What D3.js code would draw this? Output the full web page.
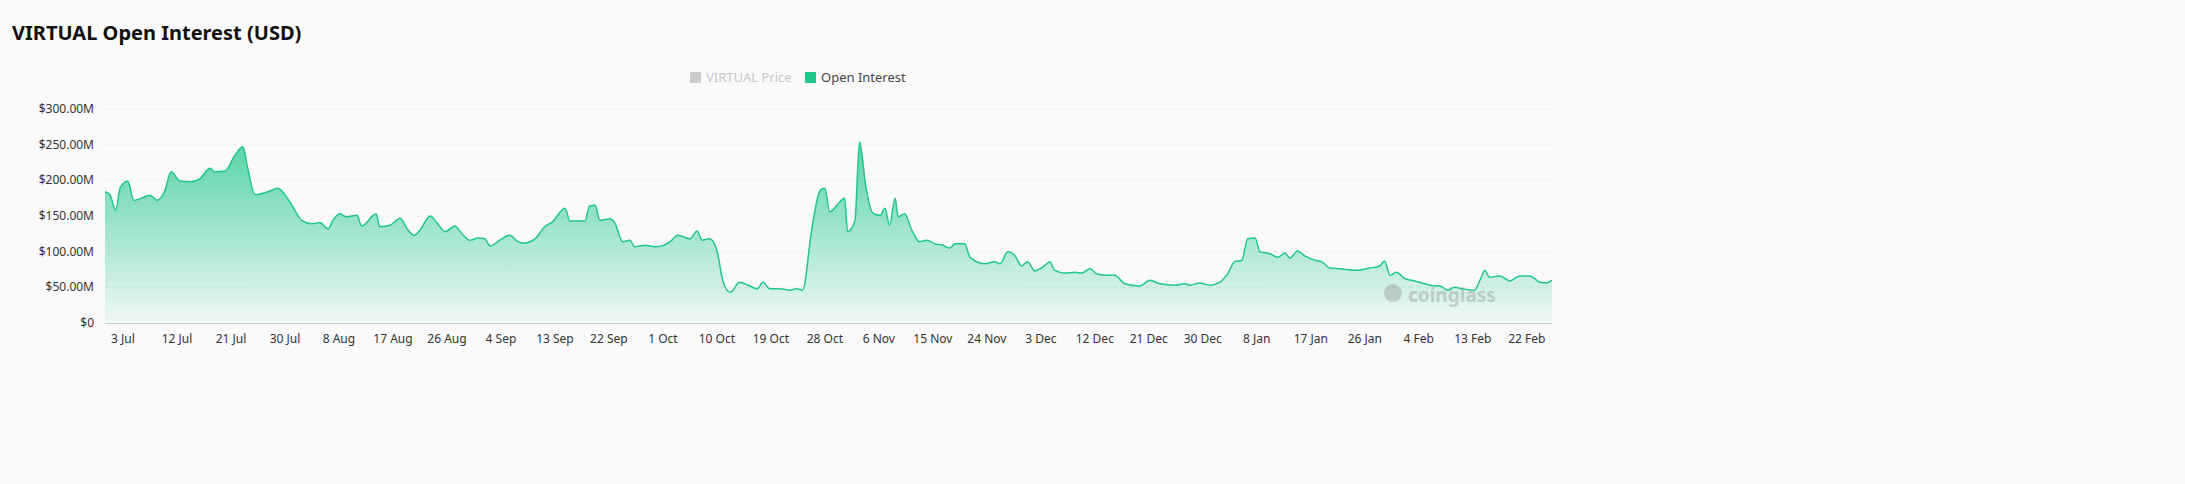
<!DOCTYPE html>
<html><head><meta charset="utf-8">
<script src="https://cdn.jsdelivr.net/npm/d3@7"></script>
<style>body{margin:0;background:#fafafa;font-family:"Noto Sans","Open Sans",sans-serif}</style>
</head><body><svg id="c" width="2185" height="484"></svg>
<script>
const startDate = new Date(2024,5,30);
const totalDays = 241.2;
// day offsets from 30 Jun 2024
const dayOffsets = [0,0.8,1.8,2.5,3.8,4.8,5.8,7.5,8.7,10,11,12.5,14.2,15.8,17.5,18.3,20,21.7,23,23.8,25,27.5,28.8,30.8,32.8,34.5,35.8,37.2,38,39.2,40.2,42,42.8,45.2,45.8,47.5,49.2,50.3,51.5,52.5,54.2,55.3,56.7,58.3,59.5,60.8,62.2,63.3,64.2,65.8,67.5,68.8,69.7,71.7,73.3,74.5,76.7,77.5,80,80.8,81.7,82.5,84.2,85,86.3,87.5,88.3,90,91.7,92.8,94.2,95.5,97.5,98.7,99.5,100.8,102,103,104.2,105.8,107.2,108.7,109.7,110.8,112.5,114.2,115.3,116.3,117.8,119.2,120,120.8,122.5,123.3,123.8,125,125.8,126.8,128,129.2,130,130.8,131.7,132.2,133.3,134.5,135.8,137,138.3,139.7,140.8,141.7,143.3,144.2,146.7,148.3,149.2,150.5,151.7,152.8,153.8,155,156.7,157.5,158.3,160,161.7,162.8,164.2,165.3,166.7,168.3,170,172.5,174.2,175.8,178.3,180,180.8,182.5,184.2,185.8,187.2,188.3,189.5,190.5,191.7,192.5,194.2,195.5,196.7,197.5,198.8,200,201.7,202.8,204.2,205.8,208.3,210.8,212.5,213.3,214.2,215.3,216.7,218.3,220,221.7,222.5,223.8,225,226.2,228.3,229.2,230,230.8,232.5,234.2,235.8,237.5,239.2,240.3,241.2];
const oiValues = [184,180,158,189,199,172,174,179,172,186,212,199,198,202,217,212,213,236,247,217,180,185,189,170,144,139,141,132,144,153,149,151,136,153,135,137,147,133,123,130,150,141,128,136,125,116,119,118,108,116,123,114,112,118,135,141,161,143,143,164,165,144,146,140,114,116,107,109,107,108,114,123,118,129,116,118,102,59,43,57,53,48,57,48,48,46,48,46,130,186,189,156,170,175,128,143,254,193,154,151,161,137,175,149,153,130,114,116,111,109,105,111,111,92,83,86,83,100,94,80,86,73,81,86,74,70,71,70,76,69,67,67,55,52,60,55,53,55,53,56,53,57,70,86,88,118,119,100,97,92,98,91,101,94,88,86,77,76,74,77,80,87,67,71,62,59,55,52,52,46,50,48,46,60,74,64,66,59,66,66,57,56,60];
const yTicks = [0,50,100,150,200,250,300];
const xTickLabels = ["3 Jul","12 Jul","21 Jul","30 Jul","8 Aug","17 Aug","26 Aug","4 Sep","13 Sep","22 Sep","1 Oct","10 Oct","19 Oct","28 Oct","6 Nov","15 Nov","24 Nov","3 Dec","12 Dec","21 Dec","30 Dec","8 Jan","17 Jan","26 Jan","4 Feb","13 Feb","22 Feb"];

const n = Math.min(dayOffsets.length, oiValues.length);
const data = dayOffsets.slice(0,n).map((d,i)=>({date:d3.timeHour.offset(startDate, Math.round(d*24)), v:oiValues[i]}));
const svg = d3.select("#c");
const L=105,R=1552,T=109,B=323;
const x = d3.scaleTime().domain([startDate, d3.timeHour.offset(startDate,Math.round(totalDays*24))]).range([L,R]);
const y = d3.scaleLinear().domain([0,300]).range([B,T]);

svg.append("text").attr("x",12).attr("y",40).attr("font-size",20).attr("font-weight",700).attr("fill","#111").text("VIRTUAL Open Interest (USD)");

const lg = svg.append("g").attr("font-size",13);
lg.append("rect").attr("x",690).attr("y",72).attr("width",11).attr("height",11).attr("fill","#ccc");
lg.append("text").attr("x",706).attr("y",82).attr("fill","#c8c8c8").text("VIRTUAL Price");
lg.append("rect").attr("x",805).attr("y",72).attr("width",11).attr("height",11).attr("fill","#1fc78a");
lg.append("text").attr("x",821).attr("y",82).attr("fill","#444").text("Open Interest");

yTicks.forEach(t=>{
  if(t>0) svg.append("line").attr("x1",L).attr("x2",R).attr("y1",y(t)).attr("y2",y(t)).attr("stroke","#e8e8e8").attr("stroke-dasharray","4,4");
  svg.append("text").attr("x",94).attr("y",y(t)+4).attr("text-anchor","end").attr("font-size",12).attr("fill","#333").text(t===0?"$0":"$"+t.toFixed(2)+"M");
});

const defs=svg.append("defs");
const g=defs.append("linearGradient").attr("id","gr").attr("x1",0).attr("y1",0).attr("x2",0).attr("y2",1);
g.append("stop").attr("offset","0%").attr("stop-color","#1fc78a").attr("stop-opacity",0.75);
g.append("stop").attr("offset","100%").attr("stop-color","#1fc78a").attr("stop-opacity",0.05);

svg.append("path").datum(data).attr("fill","url(#gr)")
 .attr("d",d3.area().x(d=>x(d.date)).y0(B).y1(d=>y(d.v)).curve(d3.curveMonotoneX));
svg.append("path").datum(data).attr("fill","none").attr("stroke","#1fc78a").attr("stroke-width",1.5)
 .attr("d",d3.line().x(d=>x(d.date)).y(d=>y(d.v)).curve(d3.curveMonotoneX));

svg.append("line").attr("x1",L).attr("x2",R).attr("y1",B+0.5).attr("y2",B+0.5).attr("stroke","#ccc");
xTickLabels.forEach((lab,i)=>{
  const dt=d3.timeDay.offset(startDate,3+9*i);
  svg.append("text").attr("x",x(dt)).attr("y",343).attr("text-anchor","middle").attr("font-size",12).attr("fill","#333").text(lab);
});

const wm=svg.append("g").attr("opacity",0.35);
wm.append("circle").attr("cx",1393).attr("cy",293).attr("r",9).attr("fill","#888");
wm.append("text").attr("x",1408).attr("y",302).attr("font-size",19).attr("font-weight",700).attr("fill","#888").text("coinglass");
</script></body></html>
